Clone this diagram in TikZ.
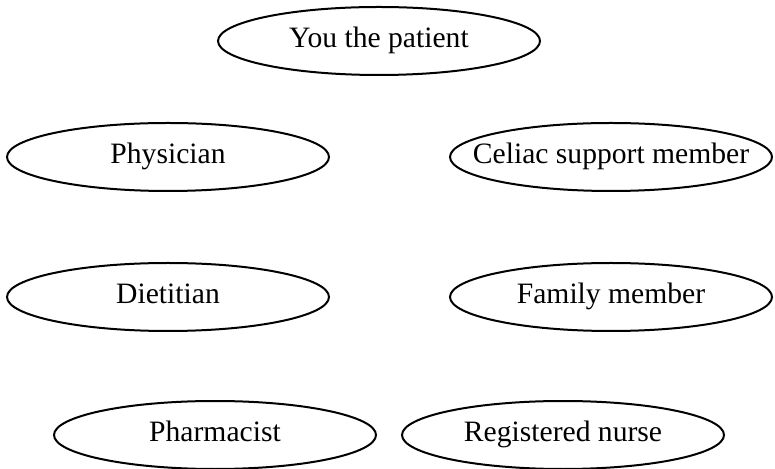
\documentclass[tikz,border=0pt]{standalone}
\usepackage{fontspec}
\setmainfont{Liberation Serif}
\usepackage{tikz}
\usetikzlibrary{shapes.geometric}

\begin{document}
\begin{tikzpicture}[x=0.5pt, y=-0.5pt,
    role/.style={ellipse, draw, line width=1pt, minimum width=161pt,
                 minimum height=34pt, inner xsep=-14pt, inner ysep=0pt,
                 text height=1.75ex, text depth=0.25ex,
                 font=\fontsize{14.8}{18}\selectfont}]
      \useasboundingbox (0,0) rectangle (775,469);
      \foreach \name/\x/\y/\label in {
        patient/379/41/You the patient,
        physician/168/157/Physician,
        support/611/157/Celiac support member,
        dietitian/168/297/Dietitian,
        family/611/297/Family member,
        pharmacist/215/435/Pharmacist,
        nurse/563/435/Registered nurse}{
        \node[role] (\name) at (\x,\y) {\label};
      }
    \end{tikzpicture}
\end{document}
